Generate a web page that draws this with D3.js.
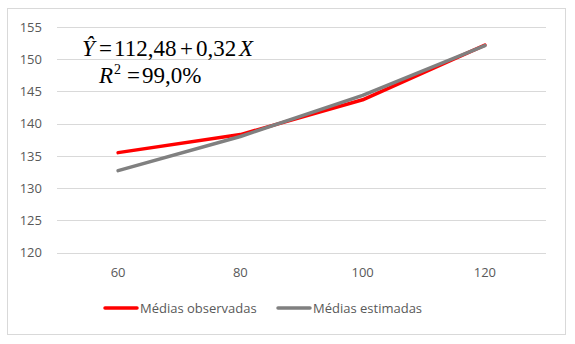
<!DOCTYPE html>
<html><head><meta charset="utf-8">
<script src="https://cdn.jsdelivr.net/npm/d3@7"></script>
<style>html,body{margin:0;padding:0;background:#fff;}svg{display:block;}</style>
</head><body>
<svg id="c" width="575" height="344"></svg>
<script>
const categories = ["60", "80", "100", "120"];
const observed = [135.5, 138.3, 143.7, 152.2];
const estimated = [132.7, 138.0, 144.4, 152.1];
const yTicks = [120, 125, 130, 135, 140, 145, 150, 155];
const seriesNames = ["Médias observadas", "Médias estimadas"];
const seriesColors = ["#FF0000", "#808080"];
// equation pieces: [text, italic]
const eqLine1 = [["Ŷ", true], ["=", false], ["112,48", false], ["+", false], ["0,32", false], ["X", true]];
const eqLine2 = [["R", true], ["2", false], ["=", false], ["99,0%", false]];

const svg = d3.select("#c");
const font = "'Open Sans', sans-serif";
const textColor = "#595959";

svg.append("rect").attr("x", 7.5).attr("y", 8.5).attr("width", 558).attr("height", 326)
  .attr("fill", "#fff").attr("stroke", "#D9D9D9").attr("stroke-width", 1);

const x = d3.scaleBand().domain(categories).range([57, 546]);
const y = d3.scaleLinear().domain([120, 155]).range([252.5, 27]);

// gridlines
svg.append("g").selectAll("line").data(yTicks).join("line")
  .attr("x1", 57).attr("x2", 546)
  .attr("y1", d => Math.round(y(d)) + 0.5).attr("y2", d => Math.round(y(d)) + 0.5)
  .attr("stroke", "#D9D9D9").attr("stroke-width", 1);

// y axis
const yAxis = svg.append("g").attr("transform", "translate(42,0)")
  .call(d3.axisLeft(y).tickValues(yTicks).tickSize(0).tickPadding(0));
yAxis.select(".domain").remove();
yAxis.selectAll("text").attr("font-family", font).attr("font-size", 13).attr("fill", textColor);

// x axis
const xAxis = svg.append("g").attr("transform", "translate(0,268)")
  .call(d3.axisBottom(x).tickSize(0).tickPadding(0));
xAxis.select(".domain").remove();
xAxis.selectAll("text").attr("font-family", font).attr("font-size", 13).attr("fill", textColor);

const line = d3.line()
  .x((d, i) => x(categories[i]) + x.bandwidth() / 2)
  .y(d => y(d));

[observed, estimated].forEach((s, k) => {
  svg.append("path").datum(s).attr("d", line)
    .attr("fill", "none").attr("stroke", seriesColors[k])
    .attr("stroke-width", 3.5).attr("stroke-linecap", "round").attr("stroke-linejoin", "round");
});

// equation
const serif = "'Liberation Serif', 'Times New Roman', serif";
const t1 = svg.append("text").attr("font-family", serif).attr("font-size", 23).attr("fill", "#000").attr("y", 56);
const x1 = [82, 99, 114, 180, 196, 239];
eqLine1.forEach((p, i) => {
  t1.append("tspan").attr("x", x1[i]).attr("font-style", p[1] ? "italic" : "normal").text(p[0]);
});
const t2 = svg.append("text").attr("font-family", serif).attr("font-size", 23).attr("fill", "#000").attr("y", 83);
t2.append("tspan").attr("x", 99).attr("font-style", "italic").text(eqLine2[0][0]);
t2.append("tspan").attr("x", 114).attr("dy", -9).attr("font-size", 14).text(eqLine2[1][0]);
t2.append("tspan").attr("x", 127).attr("dy", 9).text(eqLine2[2][0]);
t2.append("tspan").attr("x", 142).text(eqLine2[3][0]);

// legend
const legX = [105, 278];
seriesNames.forEach((n, k) => {
  svg.append("line").attr("x1", legX[k]).attr("x2", legX[k] + 32)
    .attr("y1", 308).attr("y2", 308)
    .attr("stroke", seriesColors[k]).attr("stroke-width", 3.5).attr("stroke-linecap", "round");
  svg.append("text").attr("x", legX[k] + 35).attr("y", 312.5)
    .attr("font-family", font).attr("font-size", 13).attr("fill", textColor).text(n);
});
</script>
</body></html>
